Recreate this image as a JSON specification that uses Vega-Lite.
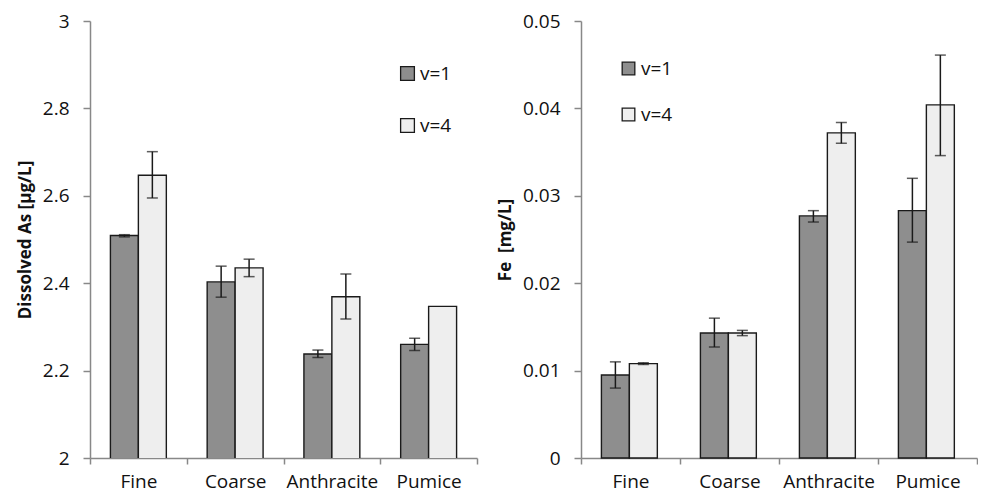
{
  "$schema": "https://vega.github.io/schema/vega-lite/v6.json",
  "padding": {"left": 16, "top": 12, "right": 0, "bottom": 4},
  "background": "white",
  "config": {
    "font": "Open Sans",
    "view": {"stroke": null},
    "axis": {
      "domainColor": "#888888", "domainWidth": 1.5,
      "tickColor": "#888888", "tickWidth": 1.5, "tickSize": 7,
      "labelFontSize": 19, "labelColor": "#111111", "labelFont": "Open Sans",
      "grid": false,
      "titleColor": "#111111", "titleFontSize": 17, "titleFontWeight": "bold", "titleFont": "Open Sans"
    },
    "legend": {
      "labelFontSize": 19, "labelColor": "#111111", "labelFont": "Open Sans",
      "symbolType": "square", "symbolStrokeColor": "#1a1a1a", "symbolStrokeWidth": 1.3,
      "symbolOpacity": 1, "labelOffset": 3, "title": null
    }
  },
  "datasets": {
    "as": [
      {"media": "Fine", "v": "v=1", "value": 2.509, "lo": 2.506, "hi": 2.511},
      {"media": "Fine", "v": "v=4", "value": 2.647, "lo": 2.595, "hi": 2.701},
      {"media": "Coarse", "v": "v=1", "value": 2.403, "lo": 2.368, "hi": 2.439},
      {"media": "Coarse", "v": "v=4", "value": 2.435, "lo": 2.415, "hi": 2.455},
      {"media": "Anthracite", "v": "v=1", "value": 2.238, "lo": 2.230, "hi": 2.247},
      {"media": "Anthracite", "v": "v=4", "value": 2.369, "lo": 2.318, "hi": 2.421},
      {"media": "Pumice", "v": "v=1", "value": 2.260, "lo": 2.246, "hi": 2.274},
      {"media": "Pumice", "v": "v=4", "value": 2.347, "lo": null, "hi": null}
    ],
    "fe": [
      {"media": "Fine", "v": "v=1", "value": 0.0095, "lo": 0.0080, "hi": 0.0110},
      {"media": "Fine", "v": "v=4", "value": 0.0108, "lo": 0.0107, "hi": 0.0109},
      {"media": "Coarse", "v": "v=1", "value": 0.0143, "lo": 0.0127, "hi": 0.0160},
      {"media": "Coarse", "v": "v=4", "value": 0.0143, "lo": 0.0140, "hi": 0.0146},
      {"media": "Anthracite", "v": "v=1", "value": 0.0277, "lo": 0.0270, "hi": 0.0283},
      {"media": "Anthracite", "v": "v=4", "value": 0.0372, "lo": 0.0360, "hi": 0.0384},
      {"media": "Pumice", "v": "v=1", "value": 0.0283, "lo": 0.0247, "hi": 0.0320},
      {"media": "Pumice", "v": "v=4", "value": 0.0404, "lo": 0.0346, "hi": 0.0461}
    ]
  },
  "resolve": {"legend": {"color": "independent"}, "scale": {"color": "independent"}},
  "spacing": 18,
  "hconcat": [
    {
      "width": 387,
      "height": 437,
      "data": {"name": "as"},
      "encoding": {
        "x": {
          "field": "media", "type": "nominal",
          "sort": ["Fine", "Coarse", "Anthracite", "Pumice"],
          "scale": {"paddingInner": 0, "paddingOuter": 0},
          "axis": {"title": null, "labelAngle": 0, "tickBand": "extent", "labelPadding": 8, "tickSize": 6}
        },
        "xOffset": {"field": "v", "type": "nominal", "scale": {"paddingInner": 0, "paddingOuter": 0.73}}
      },
      "layer": [
        {
          "mark": {"type": "bar", "stroke": "#1a1a1a", "strokeWidth": 1.4, "clip": true},
          "encoding": {
            "y": {
              "field": "value", "type": "quantitative", "title": "Dissolved As [µg/L]",
              "scale": {"domain": [2, 3], "zero": false, "nice": false},
              "axis": {"values": [2, 2.2, 2.4, 2.6, 2.8, 3], "format": ".2~f", "labelPadding": 14, "titlePadding": 8}
            },
            "color": {
              "field": "v", "type": "nominal",
              "scale": {"domain": ["v=1", "v=4"], "range": ["#8e8e8e", "#eeeeee"]},
              "legend": {"orient": "none", "legendX": 308, "legendY": 43, "rowPadding": 32, "symbolSize": 190}
            }
          }
        },
        {
          "transform": [{"filter": "datum.lo != null"}],
          "mark": {"type": "rule", "color": "#1a1a1a", "strokeWidth": 1.5},
          "encoding": {
            "y": {"field": "lo", "type": "quantitative", "title": "Dissolved As [µg/L]"},
            "y2": {"field": "hi"}
          }
        },
        {
          "transform": [{"filter": "datum.lo != null"}],
          "mark": {"type": "tick", "color": "#1a1a1a", "size": 11, "thickness": 1.5, "orient": "horizontal"},
          "encoding": {"y": {"field": "lo", "type": "quantitative", "title": "Dissolved As [µg/L]"}}
        },
        {
          "transform": [{"filter": "datum.hi != null"}],
          "mark": {"type": "tick", "color": "#1a1a1a", "size": 11, "thickness": 1.5, "orient": "horizontal"},
          "encoding": {"y": {"field": "hi", "type": "quantitative", "title": "Dissolved As [µg/L]"}}
        }
      ]
    },
    {
      "width": 396,
      "height": 437,
      "data": {"name": "fe"},
      "encoding": {
        "x": {
          "field": "media", "type": "nominal",
          "sort": ["Fine", "Coarse", "Anthracite", "Pumice"],
          "scale": {"paddingInner": 0, "paddingOuter": 0},
          "axis": {"title": null, "labelAngle": 0, "tickBand": "extent", "labelPadding": 8, "tickSize": 6}
        },
        "xOffset": {"field": "v", "type": "nominal", "scale": {"paddingInner": 0, "paddingOuter": 0.66}}
      },
      "layer": [
        {
          "mark": {"type": "bar", "stroke": "#1a1a1a", "strokeWidth": 1.4},
          "encoding": {
            "y": {
              "field": "value", "type": "quantitative", "title": "Fe\u00a0 [mg/L]",
              "scale": {"domain": [0, 0.05], "nice": false},
              "axis": {"values": [0, 0.01, 0.02, 0.03, 0.04, 0.05], "format": ".2~f", "labelPadding": 14, "titlePadding": 8}
            },
            "color": {
              "field": "v", "type": "nominal",
              "scale": {"domain": ["v=1", "v=4"], "range": ["#8e8e8e", "#eeeeee"]},
              "legend": {"orient": "none", "legendX": 38, "legendY": 38, "rowPadding": 26, "symbolSize": 160}
            }
          }
        },
        {
          "mark": {"type": "rule", "color": "#1a1a1a", "strokeWidth": 1.5},
          "encoding": {
            "y": {"field": "lo", "type": "quantitative", "title": "Fe\u00a0 [mg/L]"},
            "y2": {"field": "hi"}
          }
        },
        {
          "mark": {"type": "tick", "color": "#1a1a1a", "size": 11, "thickness": 1.5, "orient": "horizontal"},
          "encoding": {"y": {"field": "lo", "type": "quantitative", "title": "Fe\u00a0 [mg/L]"}}
        },
        {
          "mark": {"type": "tick", "color": "#1a1a1a", "size": 11, "thickness": 1.5, "orient": "horizontal"},
          "encoding": {"y": {"field": "hi", "type": "quantitative", "title": "Fe\u00a0 [mg/L]"}}
        }
      ]
    }
  ]
}
